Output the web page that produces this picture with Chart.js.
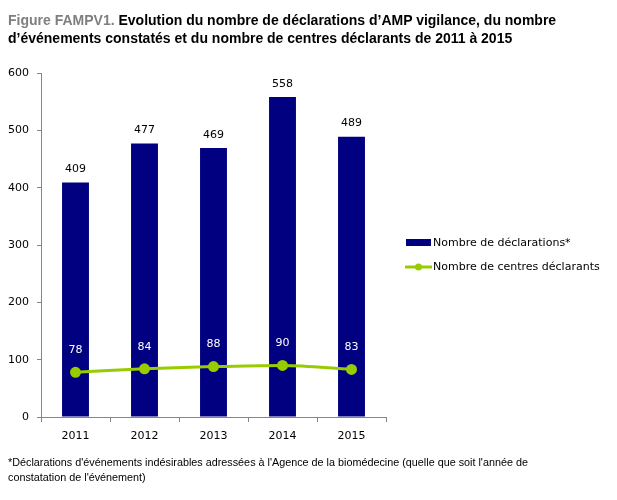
<!DOCTYPE html>
<html>
<head>
<meta charset="utf-8">
<script src="https://cdn.jsdelivr.net/npm/chart.js@4"></script>
<style>
  body { margin: 0; background: #fff; }
  #wrap { position: relative; width: 617px; height: 500px; }
  #chart { position: absolute; left: 0; top: 0; }
  .title { position: absolute; left: 8px; top: 11px; font: bold 14px "Liberation Sans", Arial, sans-serif; line-height: 18px; color: #000; white-space: nowrap; }
  .title span { color: #7f7f7f; }
  .note { position: absolute; left: 8px; top: 455px; font: 10.8px "Liberation Sans", Arial, sans-serif; line-height: 15px; color: #000; white-space: nowrap; }
</style>
</head>
<body>
<div id="wrap">
  <canvas id="chart" width="617" height="500"></canvas>
  <div class="title"><span>Figure FAMPV1.</span> Evolution du nombre de déclarations d’AMP vigilance, du nombre<br>d’événements constatés et du nombre de centres déclarants de 2011 à 2015</div>
  <div class="note">*Déclarations d'événements indésirables adressées à l'Agence de la biomédecine (quelle que soit l'année de<br>constatation de l'événement)</div>
</div>
<script>
const years = ["2011", "2012", "2013", "2014", "2015"];
const declarations = [409, 477, 469, 558, 489];
const centres = [78, 84, 88, 90, 83];
const yTicks = [0, 100, 200, 300, 400, 500, 600];

const navy = "#000080";
const green = "#99CC00";
const tickFont = { family: "DejaVu Sans, Verdana, sans-serif", size: 11 };

// value labels + legend drawn on the canvas
const labelsPlugin = {
  id: "labels",
  afterDatasetsDraw(chart) {
    const ctx = chart.ctx;
    const barIdx = 1, lineIdx = 0;
    ctx.save();
    ctx.font = "11px 'DejaVu Sans', Verdana, sans-serif";
    ctx.textAlign = "center";
    ctx.textBaseline = "middle";
    chart.getDatasetMeta(barIdx).data.forEach((bar, i) => {
      ctx.fillStyle = "#000";
      ctx.fillText(declarations[i], bar.x, bar.y - 13);
    });
    chart.getDatasetMeta(lineIdx).data.forEach((pt, i) => {
      ctx.fillStyle = "#fff";
      ctx.fillText(centres[i], pt.x, pt.y - 22);
    });

    // legend
    ctx.textAlign = "left";
    ctx.fillStyle = navy;
    ctx.fillRect(406, 239, 25, 7);
    ctx.fillStyle = "#000";
    ctx.fillText(chart.data.datasets[barIdx].label, 433, 243);
    ctx.strokeStyle = green;
    ctx.lineWidth = 3;
    ctx.beginPath();
    ctx.moveTo(405, 267);
    ctx.lineTo(432, 267);
    ctx.stroke();
    ctx.fillStyle = green;
    ctx.beginPath();
    ctx.arc(418.5, 267, 3.5, 0, Math.PI * 2);
    ctx.fill();
    ctx.fillStyle = "#000";
    ctx.fillText(chart.data.datasets[lineIdx].label, 433, 267);
    ctx.restore();
  }
};

new Chart(document.getElementById("chart"), {
  data: {
    labels: years,
    datasets: [
      {
        type: "line",
        label: "Nombre de centres déclarants",
        data: centres,
        borderColor: green,
        backgroundColor: green,
        borderWidth: 3,
        pointRadius: 4,
        pointHoverRadius: 4,
        cubicInterpolationMode: "monotone",
        order: 0
      },
      {
        type: "bar",
        label: "Nombre de déclarations*",
        data: declarations,
        backgroundColor: navy,
        categoryPercentage: 1,
        barPercentage: 0.39,
        order: 1
      }
    ]
  },
  options: {
    responsive: false,
    animation: false,
    events: [],
    layout: { padding: { left: 0, right: 231, top: 73, bottom: 0 } },
    plugins: { legend: { display: false }, tooltip: { enabled: false } },
    scales: {
      x: {
        offset: true,
        grid: { offset: true, drawOnChartArea: false, drawTicks: true, tickLength: 5, color: "#868686" },
        border: { color: "#868686" },
        ticks: { font: tickFont, color: "#000", padding: 8 },
        afterFit(s) { s.height = 83; }
      },
      y: {
        min: 0,
        max: 600,
        afterBuildTicks(s) { s.ticks = yTicks.map(v => ({ value: v })); },
        grid: { drawOnChartArea: false, drawTicks: true, tickLength: 4, color: "#868686" },
        border: { color: "#868686" },
        ticks: { font: tickFont, color: "#000", padding: 8 },
        afterFit(s) { s.width = 41; }
      }
    }
  },
  plugins: [labelsPlugin]
});
</script>
</body>
</html>
